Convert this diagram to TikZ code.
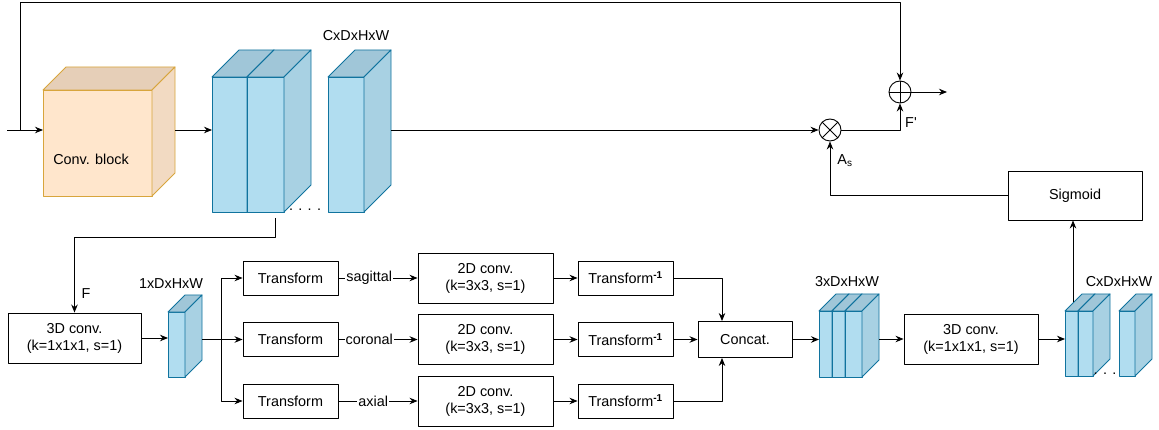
\documentclass[tikz,border=0pt]{standalone}
\usepackage{fontspec}
\setmainfont{Liberation Sans}
\usetikzlibrary{arrows.meta,calc}
\definecolor{bF}{HTML}{B1DDF0}
\definecolor{bT}{HTML}{A0C6D8}
\definecolor{bS}{HTML}{A8D1E3}
\definecolor{bD}{HTML}{10739E}
\definecolor{oF}{HTML}{FFE6CC}
\definecolor{oT}{HTML}{E6CFB8}
\definecolor{oS}{HTML}{F2DAC2}
\definecolor{oD}{HTML}{D8A53C}
\newcommand\drawcube[7]{%
  \filldraw[fill=#7F, draw=#7D] (#2,#3) rectangle (#4,#5);
  \filldraw[fill=#7T, draw=#7D] (#2,#3) -- ({#2+#6},{#3-#6}) -- ({#4+#6},{#3-#6}) -- (#4,#3) -- cycle;
  \filldraw[fill=#7S, draw=#7D] (#4,#3) -- ({#4+#6},{#3-#6}) -- ({#4+#6},{#5-#6}) -- (#4,#5) -- cycle;
  \coordinate (#1L) at (#2,#3);
  \coordinate (#1R) at ({#4+#6},#3);
}
\begin{document}
\begin{tikzpicture}[x=1pt,y=-1pt,
  font=\fontsize{14.4}{17}\selectfont,
  line width=0.9pt, line join=round,
  >={Stealth[length=8pt,width=6.5pt]},
  box/.style={draw, line width=0.9pt, inner sep=0pt, align=center},
  lbl/.style={inner sep=0pt},
  elbl/.style={fill=white, inner sep=1pt},
  opnode/.style={draw, circle, line width=0.9pt, minimum size=22pt, inner sep=0pt}]
\useasboundingbox (0,0) rectangle (1159,430);

% cubes (top row)
\drawcube{conv}{43}{90}{152}{196}{23}{o}
\node[lbl] (convtxt) at (91,159) {Conv. block};
\drawcube{ba}{212}{77}{247}{212}{27}{b}
\drawcube{bb}{247}{77}{284}{212}{27}{b}
\drawcube{bc}{328}{77}{364}{212}{27}{b}
\node[lbl] (lc1) at (356,36) {CxDxHxW};
\node[lbl] (dots1) at (305,210) {. . . .};

% operators
\node[opnode] (otimes) at (830,130) {};
\draw (otimes.north east) -- (otimes.south west) (otimes.north west) -- (otimes.south east);
\node[opnode] (oplus) at (900,92) {};
\draw (oplus.north) -- (oplus.south) (oplus.west) -- (oplus.east);
\node[lbl] (fp) at (911,123) {F\textquotesingle};
\node[lbl] (as) at (845,161) {A\textsubscript{s}};
\node[box, minimum width=134pt, minimum height=49pt] (sig) at (1075,195.5) {Sigmoid};

% bottom row
\node[box, minimum width=133pt, minimum height=50pt] (c3a) at (74.5,338) {3D conv.\\(k=1x1x1, s=1)};
\node[lbl] (F) at (86,294) {F};
\drawcube{sl}{168}{312}{185}{377}{17}{b}
\node[lbl] (l1) at (171,284) {1xDxHxW};

\foreach \i/\y in {1/278,2/339.5,3/401}{
  \node[box, minimum width=95pt, minimum height=34pt] (t\i) at (290.5,\y) {Transform};
  \node[box, minimum width=135pt, minimum height=50pt] (d\i) at (485.5,\y) {2D conv.\\(k=3x3, s=1)};
  \node[box, minimum width=95pt, minimum height=34pt] (i\i) at (625.5,\y) {Transform\textsuperscript{\textbf{-1}}};
}
\node[box, minimum width=94pt, minimum height=36pt] (cat) at (745,339.5) {Concat.};

\drawcube{ta}{819}{311}{832}{377}{17}{b}
\drawcube{tb}{832}{311}{845}{377}{17}{b}
\drawcube{tc}{845}{311}{862}{377}{17}{b}
\node[lbl] (l3) at (847,282) {3xDxHxW};

\node[box, minimum width=134pt, minimum height=50pt] (c3b) at (971,339) {3D conv.\\(k=1x1x1, s=1)};

\drawcube{oa}{1065}{311}{1078}{376}{17}{b}
\drawcube{ob}{1078}{311}{1093}{376}{17}{b}
\drawcube{oc}{1119}{311}{1135}{376}{17}{b}
\node[lbl] (l4) at (1119,282) {CxDxHxW};
\node[lbl] (dots2) at (1105,374) {. . .};

% connectors
\coordinate (inS) at (7,130);
\coordinate (br) at (20,130);
\coordinate (topc) at (20,2);
\draw[->] (inS) -- (inS -| convL);
\draw[->] (br) -- (topc) -| (oplus.north);
\draw[->] (convR |- inS) -- (inS -| baL);
\draw[->] (bcR |- otimes) -- (otimes.west);
\draw[->] (otimes.east) -| (oplus.south);
\coordinate (outE) at (947,92);
\draw[->] (oplus.east) -- (outE);
\draw[->] (sig.west) -| (otimes.south);

\coordinate (fb) at (275,218);
\coordinate (fk) at (275,237);
\draw[->] (fb) -- (fk) -| (c3a.north);
\draw[->] (c3a.east) -- (c3a.east -| slL);

\coordinate (sp) at (221,339.5);
\draw (slR |- sp) -- (sp);
\draw[->] (sp) |- (t1.west);
\draw[->] (sp) -- (t2.west);
\draw[->] (sp) |- (t3.west);

\draw[->] (t1.east) -- node[elbl, pos=0.39] {sagittal} (d1.west);
\draw[->] (t2.east) -- node[elbl, pos=0.39] {coronal} (d2.west);
\draw[->] (t3.east) -- node[elbl, pos=0.44] {axial} (d3.west);
\foreach \i in {1,2,3}{ \draw[->] (d\i.east) -- (i\i.west); }
\draw[->] (i1.east) -| ([xshift=-23pt]cat.north);
\draw[->] (i2.east) -- (cat.west);
\draw[->] (i3.east) -| ([xshift=-23pt]cat.south);
\draw[->] (cat.east) -- (cat.east -| taL);
\draw[->] (tcR |- c3b.west) -- (c3b.west);
\draw[->] (c3b.east) -- (c3b.east -| oaL);
\coordinate (ot) at (1073,302);
\draw[->] (ot) -- (ot |- sig.south);
\end{tikzpicture}
\end{document}
